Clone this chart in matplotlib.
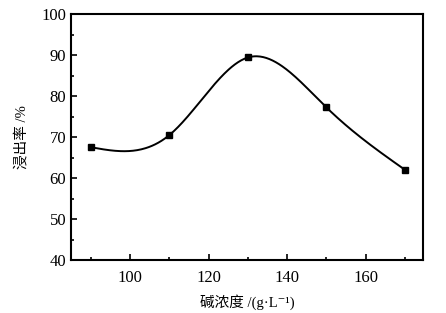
import numpy as np
import matplotlib
matplotlib.use("Agg")
import matplotlib.pyplot as plt
from matplotlib.ticker import MultipleLocator

plt.rcParams['font.family'] = ['Liberation Serif', 'Noto Sans CJK SC', 'DejaVu Serif']

# data
conc = [90, 110, 130, 150, 170]
leach = [67.5, 70.5, 89.4, 77.2, 62.0]


def spline(x, y, xs):
    # natural cubic spline for the smooth connecting line
    x = np.asarray(x, float)
    y = np.asarray(y, float)
    n = len(x)
    h = np.diff(x)
    A = np.zeros((n, n))
    b = np.zeros(n)
    A[0, 0] = A[-1, -1] = 1
    for i in range(1, n - 1):
        A[i, i - 1] = h[i - 1]
        A[i, i] = 2 * (h[i - 1] + h[i])
        A[i, i + 1] = h[i]
        b[i] = 6 * ((y[i + 1] - y[i]) / h[i] - (y[i] - y[i - 1]) / h[i - 1])
    M = np.linalg.solve(A, b)
    out = np.empty_like(xs)
    for k, xv in enumerate(xs):
        i = min(np.searchsorted(x, xv) - 1, n - 2)
        i = max(i, 0)
        t0 = x[i + 1] - xv
        t1 = xv - x[i]
        out[k] = (M[i] * t0**3 + M[i + 1] * t1**3) / (6 * h[i]) \
            + (y[i] / h[i] - M[i] * h[i] / 6) * t0 \
            + (y[i + 1] / h[i] - M[i + 1] * h[i] / 6) * t1
    return out


fig = plt.figure(figsize=(4.46, 3.13), dpi=100)
ax = fig.add_axes([71 / 446, 53 / 313, 352 / 446, 246 / 313])

xs = np.linspace(conc[0], conc[-1], 300)
ax.plot(xs, spline(conc, leach, xs), color='black', lw=1.4)
ax.plot(conc, leach, 's', color='black', ms=4.5)

ax.set_xlim(84.9, 174.6)
ax.set_ylim(40, 100)
ax.xaxis.set_major_locator(MultipleLocator(20))
ax.xaxis.set_minor_locator(MultipleLocator(10))
ax.yaxis.set_major_locator(MultipleLocator(10))
ax.yaxis.set_minor_locator(MultipleLocator(5))
ax.tick_params(which='both', direction='in', labelsize=12, width=1.2)
ax.tick_params(which='major', length=4)
ax.tick_params(which='minor', length=2.5)
ax.tick_params(axis='x', pad=7)
for s in ax.spines.values():
    s.set_linewidth(1.5)

ax.set_xlabel('碱浓度 /(g·L⁻¹)', fontsize=10.5, labelpad=6)
ax.set_ylabel('浸出率 /%', fontsize=10.5, labelpad=9)

fig.savefig('out.png', dpi=100)
